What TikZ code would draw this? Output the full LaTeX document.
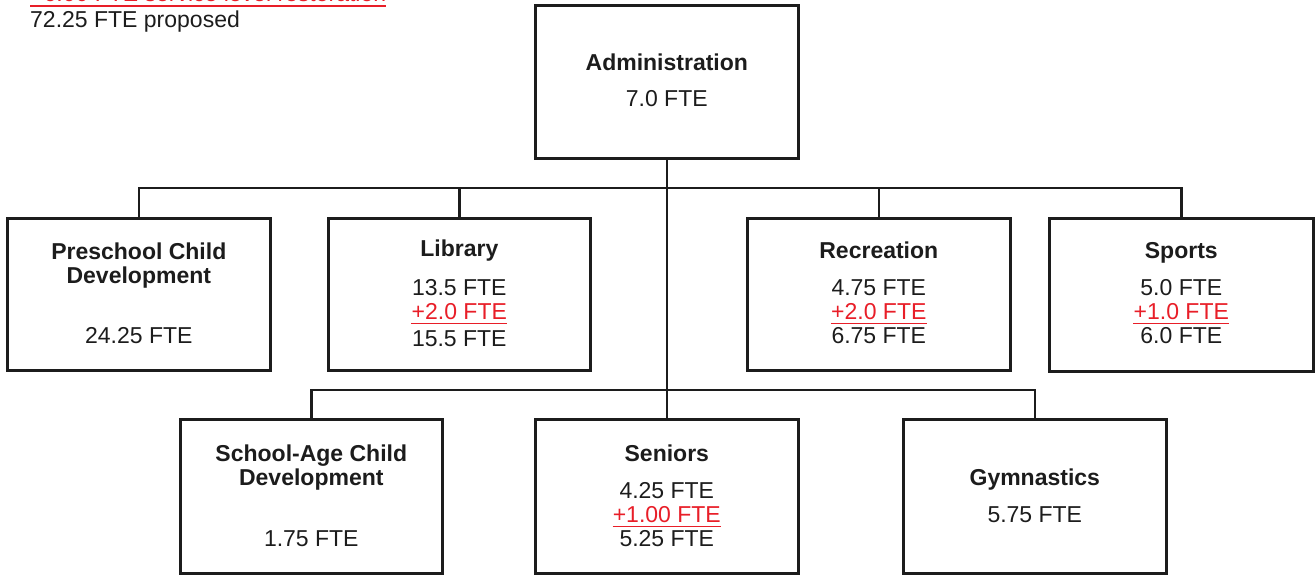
\documentclass[tikz,border=0pt]{standalone}
\usepackage{fontspec}
\setmainfont{Liberation Sans}
\definecolor{fred}{RGB}{232,30,40}
\definecolor{ftxt}{RGB}{28,28,28}
\begin{document}
\begin{tikzpicture}[x=1pt,y=-1pt,
  box/.style={draw=ftxt, line width=2.6pt, inner sep=0pt, anchor=north west},
  conn/.style={draw=ftxt, line width=2.6pt},
  lbl/.style={inner sep=0pt, anchor=base, text=ftxt, font=\fontsize{23}{27}\selectfont},
  ttl/.style={lbl, font=\fontsize{23}{27}\selectfont\bfseries},
  add/.style={lbl, text=fred},
  uline/.style={color=fred, draw=fred, line width=1.8pt}]
\clip (0,0) rectangle (1315,575);
\path[use as bounding box] (0,0) rectangle (1315,575);

% header text
\node[add, anchor=base west] (rest) at (30,1.5) {+6.00 FTE service level restoration};
\draw[uline] ([yshift=-4.5pt]rest.base west) -- ([yshift=-4.5pt]rest.base east);
\node[lbl, anchor=base west] (prop) at (30,28) {72.25 FTE proposed};

% boxes
\node[box, minimum width=263pt, minimum height=153pt] (adm) at (534,4) {};
\node[box, minimum width=263pt, minimum height=152pt] (pre) at (6,217) {};
\node[box, minimum width=262pt, minimum height=152pt] (lib) at (327,217) {};
\node[box, minimum width=263pt, minimum height=152pt] (rec) at (746,217) {};
\node[box, minimum width=264pt, minimum height=153pt] (spo) at (1048,217) {};
\node[box, minimum width=262pt, minimum height=154pt] (sch) at (179,418) {};
\node[box, minimum width=263pt, minimum height=154pt] (sen) at (534,418) {};
\node[box, minimum width=263pt, minimum height=154pt] (gym) at (902,418) {};

% connectors
\coordinate (b1) at (0,188);
\coordinate (b2) at (0,390);
\draw[conn] (adm.south) -- (sen.north);
\draw[conn] (pre.north) |- (spo.north |- b1) -- (spo.north);
\draw[conn] (lib.north) -- (lib.north |- b1);
\draw[conn] (rec.north) -- (rec.north |- b1);
\draw[conn] (sch.north) |- (gym.north |- b2) -- (gym.north);

% Administration
\node[ttl] (admT) at (adm.center |- 0,71) {Administration};
\node[lbl] (admA) at (adm.center |- 0,107) {7.0 FTE};

% Preschool
\node[ttl] (preT1) at (pre.center |- 0,259) {Preschool Child};
\node[ttl] (preT2) at (pre.center |- 0,283) {Development};
\node[lbl] (preA) at (pre.center |- 0,343) {24.25 FTE};

% Library
\node[ttl] (libT) at (lib.center |- 0,256) {Library};
\node[lbl] (libA) at (lib.center |- 0,295) {13.5 FTE};
\node[add] (libB) at (lib.center |- 0,319) {+2.0 FTE};
\draw[uline] ([yshift=-4.5pt]libB.base west) -- ([yshift=-4.5pt]libB.base east);
\node[lbl] (libC) at (lib.center |- 0,346) {15.5 FTE};

% Recreation
\node[ttl] (recT) at (rec.center |- 0,258) {Recreation};
\node[lbl] (recA) at (rec.center |- 0,295) {4.75 FTE};
\node[add] (recB) at (rec.center |- 0,319) {+2.0 FTE};
\draw[uline] ([yshift=-4.5pt]recB.base west) -- ([yshift=-4.5pt]recB.base east);
\node[lbl] (recC) at (rec.center |- 0,343) {6.75 FTE};

% Sports
\node[ttl] (spoT) at (spo.center |- 0,258) {Sports};
\node[lbl] (spoA) at (spo.center |- 0,295) {5.0 FTE};
\node[add] (spoB) at (spo.center |- 0,319) {+1.0 FTE};
\draw[uline] ([yshift=-4.5pt]spoB.base west) -- ([yshift=-4.5pt]spoB.base east);
\node[lbl] (spoC) at (spo.center |- 0,343) {6.0 FTE};

% School-Age
\node[ttl] (schT1) at (sch.center |- 0,461) {School-Age Child};
\node[ttl] (schT2) at (sch.center |- 0,485) {Development};
\node[lbl] (schA) at (sch.center |- 0,546) {1.75 FTE};

% Seniors
\node[ttl] (senT) at (sen.center |- 0,461) {Seniors};
\node[lbl] (senA) at (sen.center |- 0,498) {4.25 FTE};
\node[add] (senB) at (sen.center |- 0,522) {+1.00 FTE};
\draw[uline] ([yshift=-4.5pt]senB.base west) -- ([yshift=-4.5pt]senB.base east);
\node[lbl] (senC) at (sen.center |- 0,546) {5.25 FTE};

% Gymnastics
\node[ttl] (gymT) at (gym.center |- 0,485) {Gymnastics};
\node[lbl] (gymA) at (gym.center |- 0,522) {5.75 FTE};
\end{tikzpicture}
\end{document}
